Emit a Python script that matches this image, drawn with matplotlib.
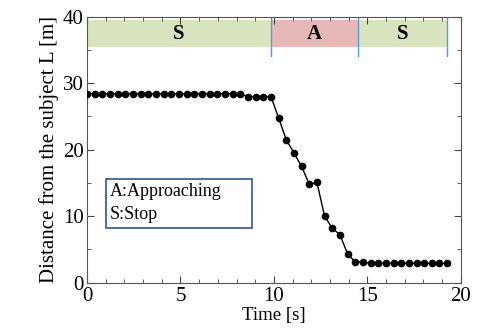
import matplotlib
matplotlib.use("Agg")
from matplotlib import pyplot as plt
from matplotlib.patches import Rectangle
from matplotlib.ticker import MultipleLocator

plt.rcParams['font.family'] = ['Liberation Serif', 'DejaVu Serif']

# time [s] and distance L [m]
time = [0.00, 0.41, 0.82, 1.23, 1.64, 2.05, 2.46, 2.87, 3.28, 3.69,
        4.10, 4.51, 4.92, 5.33, 5.74, 6.15, 6.56, 6.97, 7.38, 7.79,
        8.20, 8.61, 9.02, 9.43, 9.84, 10.25, 10.66, 11.07, 11.48, 11.89,
        12.30, 12.71, 13.12, 13.53, 13.94, 14.35, 14.76, 15.17, 15.58, 15.99,
        16.40, 16.81, 17.22, 17.63, 18.04, 18.45, 18.86, 19.27]
distance = [28.4, 28.4, 28.4, 28.4, 28.4, 28.4, 28.4, 28.4, 28.4, 28.4,
            28.4, 28.4, 28.4, 28.4, 28.4, 28.4, 28.4, 28.4, 28.4, 28.4,
            28.4, 28.0, 28.0, 28.0, 28.0, 24.8, 21.5, 19.5, 17.5, 14.8,
            15.1, 10.0, 8.2, 7.2, 4.35, 3.1, 3.1, 2.9, 2.9, 2.9,
            2.9, 2.9, 2.9, 2.9, 2.9, 2.9, 2.9, 2.9]

# phase bands along the top
phase_labels = ['S', 'A', 'S']
phase_start = [0.0, 9.82, 14.5]
phase_end = [9.82, 14.5, 19.24]
phase_colors = ['#d7e4bd', '#e6b9b8', '#d7e4bd']

fig = plt.figure(figsize=(4.81, 3.29), dpi=100)
ax = fig.add_axes([0.181, 0.141, 0.777, 0.808])

for lab, s, e, c in zip(phase_labels, phase_start, phase_end, phase_colors):
    ax.add_patch(Rectangle((s, 35.4), e - s, 4.1, facecolor=c, edgecolor='none', zorder=1))
    ax.text((s + e) / 2, 37.4, lab, ha='center', va='center', fontsize=15,
            fontweight='bold', zorder=3)
for b in phase_end:
    ax.plot([b, b], [34.1, 39.8], color='#5b9bd5', lw=1, zorder=2)

ax.plot(time, distance, color='black', lw=1, marker='o', markersize=4.5, zorder=4)

# legend box
ax.add_patch(Rectangle((1.02, 8.2), 7.8, 7.4, facecolor='white', edgecolor='#2f5597',
                       lw=1.2, zorder=3))
ax.text(1.2, 13.7, 'A:Approaching', fontsize=13, va='center', zorder=4)
ax.text(1.2, 10.3, 'S:Stop', fontsize=13, va='center', zorder=4)

ax.set_xlim(0, 20)
ax.set_ylim(0, 40)
ax.xaxis.set_major_locator(MultipleLocator(5))
ax.xaxis.set_minor_locator(MultipleLocator(1))
ax.yaxis.set_major_locator(MultipleLocator(10))
ax.yaxis.set_minor_locator(MultipleLocator(5))
ax.tick_params(which='both', direction='in', top=True, right=True, labelsize=15,
               color='#444444')
ax.tick_params(axis='x', pad=3.5)
ax.tick_params(axis='y', pad=2.5)
ax.tick_params(which='major', length=5)
ax.tick_params(which='minor', length=3)
for sp in ax.spines.values():
    sp.set_color('#555555')

ax.set_xlabel('Time [s]', fontsize=13.5, labelpad=0.5)
ax.set_ylabel('Distance from the subject L [m]', fontsize=15, labelpad=3)

fig.savefig('out.png', dpi=100)
